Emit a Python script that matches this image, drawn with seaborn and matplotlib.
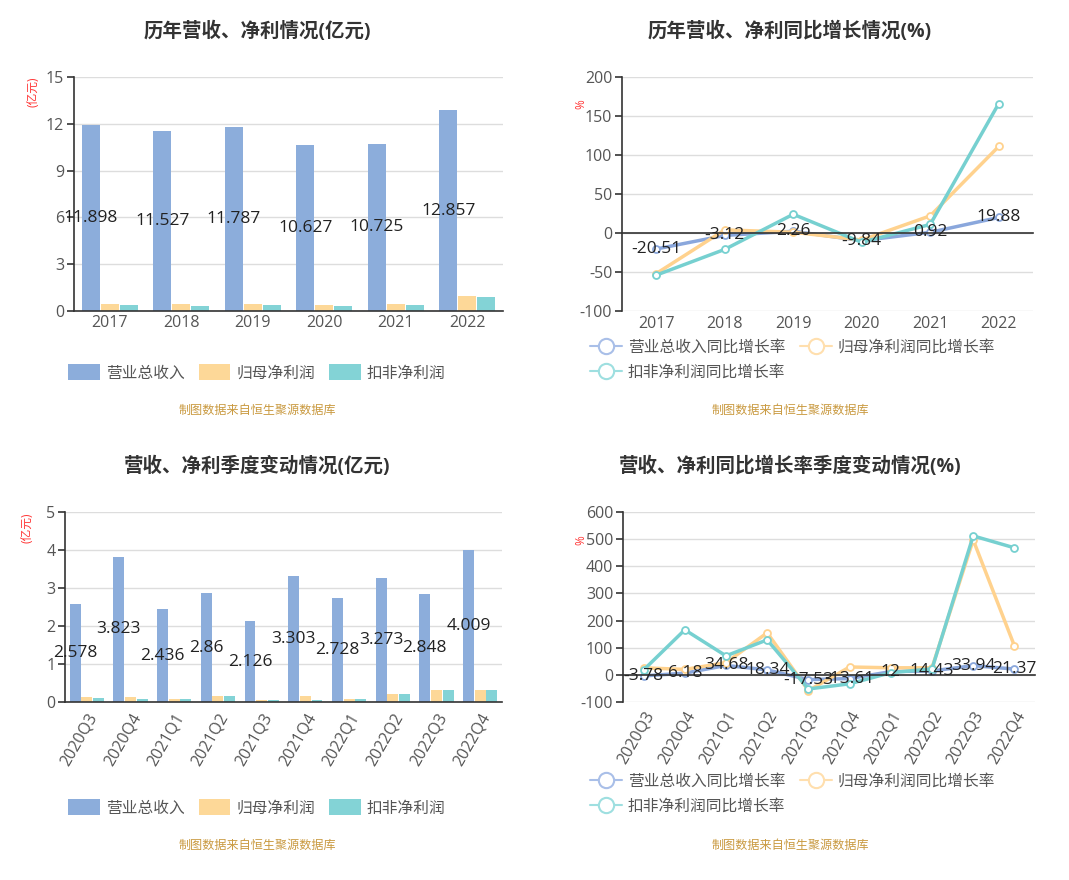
import matplotlib
matplotlib.use("Agg")
import matplotlib.pyplot as plt
import seaborn as sns
import pandas as pd
import numpy as np
from matplotlib.lines import Line2D
from matplotlib.patches import Patch

sns.set_style("white")
plt.rcParams['font.family'] = ['Open Sans', 'Noto Sans CJK SC', 'DejaVu Sans']
plt.rcParams['axes.unicode_minus'] = False

# ---------------- data ----------------
years = ['2017', '2018', '2019', '2020', '2021', '2022']
rev = [11.898, 11.527, 11.787, 10.627, 10.725, 12.857]
np_parent = [0.42, 0.44, 0.43, 0.38, 0.47, 0.97]
np_deduct = [0.36, 0.29, 0.37, 0.33, 0.37, 0.90]
rev_yoy = [-20.51, -3.12, 2.26, -9.84, 0.92, 19.88]
parent_yoy = [-52, 4, 1, -9, 22, 111]
deduct_yoy = [-54, -21, 24, -12, 11, 166]

quarters = ['2020Q3', '2020Q4', '2021Q1', '2021Q2', '2021Q3', '2021Q4',
            '2022Q1', '2022Q2', '2022Q3', '2022Q4']
q_rev = [2.578, 3.823, 2.436, 2.86, 2.126, 3.303, 2.728, 3.273, 2.848, 4.009]
q_parent = [0.13, 0.12, 0.07, 0.17, 0.06, 0.15, 0.09, 0.21, 0.32, 0.32]
q_deduct = [0.11, 0.09, 0.08, 0.16, 0.06, 0.06, 0.08, 0.20, 0.31, 0.31]
q_rev_yoy = [-3.78, 6.18, 34.68, 18.34, -17.53, -13.61, 12, 14.43, 33.94, 21.37]
q_parent_yoy = [26, 20, 45, 155, -58, 29, 26, 26, 497, 107]
q_deduct_yoy = [18, 166, 70, 129, -52, -33, 8, 22, 512, 468]

bar_names = ['营业总收入', '归母净利润', '扣非净利润']
line_names = ['营业总收入同比增长率', '归母净利润同比增长率', '扣非净利润同比增长率']
bar_colors = ['#8CADDB', '#FDD898', '#83D3D6']
line_colors = ['#8AA7DC', '#FFD28E', '#76D0D0']
legend_line_colors = ['#A9BFE8', '#FFDFAE', '#9EDFE0']
source = '制图数据来自恒生聚源数据库'

W, H = 1069, 880
fig = plt.figure(figsize=(W / 100, H / 100), dpi=100)
fig.patch.set_facecolor('white')


def add_ax(l, t, r, b):
    return fig.add_axes([l / W, 1 - b / H, (r - l) / W, (b - t) / H])


TICK_C = '#555555'
AXIS_C = '#333333'
TICK_FS = 11.5


def rotate_labels(ax, rot):
    for lab in ax.get_xticklabels():
        lab.set_rotation(rot)
        lab.set_ha('right')
        lab.set_rotation_mode('anchor')


def style_axes(ax, n, ymin, ymax, ystep, zero_spine=False, pad=4):
    ax.set_xlim(-0.5, n - 0.5)
    ax.set_ylim(ymin, ymax)
    ax.set_yticks(np.arange(ymin, ymax + 0.001, ystep))
    ax.yaxis.grid(True, color='#DDDDDD', lw=1)
    ax.xaxis.grid(False)
    ax.set_axisbelow(True)
    for s in ['top', 'right']:
        ax.spines[s].set_visible(False)
    for s in ['left', 'bottom']:
        ax.spines[s].set_color(AXIS_C)
        ax.spines[s].set_linewidth(1.2)
    if zero_spine:
        ax.spines['bottom'].set_position(('data', 0))
    ax.set_xticks(np.arange(n))
    ax.set_xticks(np.arange(-0.5, n, 1.0), minor=True)
    ax.tick_params(axis='x', which='major', length=0, pad=pad, labelsize=TICK_FS,
                   colors=TICK_C)
    ax.tick_params(axis='x', which='minor', length=5, width=1.2, color=AXIS_C,
                   direction='out')
    ax.tick_params(axis='y', which='major', length=5, width=1.2, color=AXIS_C,
                   labelsize=TICK_FS, labelcolor=TICK_C, left=True, direction='out',
                   pad=2)
    ax.set_xlabel('')
    ax.set_ylabel('')


def bar_panel(ax, cats, a, b, c, ymin, ymax, ystep, rot=0):
    df = pd.DataFrame({
        'cat': cats * 3,
        'val': a + b + c,
        'series': sum([[nm] * len(cats) for nm in bar_names], []),
    })
    sns.barplot(data=df, x='cat', y='val', hue='series', hue_order=bar_names,
                palette=bar_colors, width=0.8, gap=0.06, ax=ax, legend=False,
                saturation=1, edgecolor='none')
    style_axes(ax, len(cats), ymin, ymax, ystep, pad=(3 if not rot else 6))
    ax.set_xticklabels(cats)
    if rot:
        rotate_labels(ax, rot)
    ax.bar_label(ax.containers[0], labels=[f'{v:g}' for v in a], label_type='center',
                 fontsize=12.5, color='#222222')


def line_panel(ax, cats, a, b, c, ymin, ymax, ystep, rot=0, pad=4):
    df = pd.DataFrame({
        'cat': cats * 3,
        'val': a + b + c,
        'series': sum([[nm] * len(cats) for nm in line_names], []),
    })
    df['xi'] = list(range(len(cats))) * 3
    sns.lineplot(data=df, x='xi', y='val', hue='series', hue_order=line_names,
                 palette=line_colors, lw=2.5, marker='o', markersize=5,
                 markerfacecolor='white', markeredgewidth=1.3, ax=ax, legend=False,
                 sort=False)
    for ln, col in zip(ax.lines, line_colors):
        ln.set_markeredgecolor(col)
    style_axes(ax, len(cats), ymin, ymax, ystep, zero_spine=True, pad=pad)
    ax.set_xticklabels(cats)
    if rot:
        rotate_labels(ax, rot)
    for i, v in enumerate(a):
        ax.text(i, v, f'{v:g}', ha='center', va='center', fontsize=12.5,
                color='#222222', zorder=5)


# ---------- top-left ----------
ax1 = add_ax(74, 77, 503, 311)
bar_panel(ax1, years, rev, np_parent, np_deduct, 0, 15, 3)

# ---------- top-right ----------
ax2 = add_ax(622, 77, 1033, 311)
line_panel(ax2, years, rev_yoy, parent_yoy, deduct_yoy, -100, 200, 50, pad=60)

# ---------- bottom-left ----------
ax3 = add_ax(65, 512, 502, 702)
bar_panel(ax3, quarters, q_rev, q_parent, q_deduct, 0, 5, 1, rot=60)

# ---------- bottom-right ----------
ax4 = add_ax(623, 512, 1035, 702)
line_panel(ax4, quarters, q_rev_yoy, q_parent_yoy, q_deduct_yoy, -100, 600, 100,
           rot=60, pad=24)

# ---------- titles ----------
title_kw = dict(ha='center', va='center', fontsize=14, fontweight='bold', color='#333333')
fig.text(257 / W, 1 - 32 / H, '历年营收、净利情况(亿元)', **title_kw)
fig.text(790 / W, 1 - 32 / H, '历年营收、净利同比增长情况(%)', **title_kw)
fig.text(257 / W, 1 - 467 / H, '营收、净利季度变动情况(亿元)', **title_kw)
fig.text(790 / W, 1 - 467 / H, '营收、净利同比增长率季度变动情况(%)', **title_kw)

# ---------- unit labels ----------
unit_kw = dict(ha='center', va='center', fontsize=8.5, color='#FF3333', rotation=90)
fig.text(33 / W, 1 - 92 / H, '(亿元)', **unit_kw)
fig.text(27 / W, 1 - 528 / H, '(亿元)', **unit_kw)
fig.text(581 / W, 1 - 104 / H, '%', **unit_kw)
fig.text(581 / W, 1 - 540 / H, '%', **unit_kw)

# ---------- source text ----------
src_kw = dict(ha='center', va='center', fontsize=8.7, color='#C9993F')
fig.text(257 / W, 1 - 410 / H, source, **src_kw)
fig.text(790 / W, 1 - 410 / H, source, **src_kw)
fig.text(257 / W, 1 - 845 / H, source, **src_kw)
fig.text(790 / W, 1 - 845 / H, source, **src_kw)

# ---------- legends ----------
bar_handles = [Patch(facecolor=c, edgecolor='none') for c in bar_colors]
leg_kw = dict(frameon=False, fontsize=11.3, labelcolor='#555555', handlelength=2.0,
              handleheight=1.15, handletextpad=0.4, columnspacing=0.9, borderaxespad=0)
fig.legend(bar_handles, bar_names, loc='center', ncol=3,
           bbox_to_anchor=(257 / W, 1 - 373 / H), **leg_kw)
fig.legend(bar_handles, bar_names, loc='center', ncol=3,
           bbox_to_anchor=(257 / W, 1 - 808 / H), **leg_kw)

line_handles = [Line2D([], [], color=c, lw=1.5, marker='o', markersize=11,
                       markerfacecolor='white', markeredgewidth=1.5, markeredgecolor=c)
                for c in legend_line_colors]
order = [0, 2, 1]
lleg_kw = dict(frameon=False, fontsize=11.3, labelcolor='#555555', handlelength=2.0,
               handletextpad=0.4, columnspacing=0.95, borderaxespad=0, labelspacing=0.6)
fig.legend([line_handles[i] for i in order], [line_names[i] for i in order],
           loc='upper left', ncol=2, bbox_to_anchor=(584 / W, 1 - 333 / H), **lleg_kw)
fig.legend([line_handles[i] for i in order], [line_names[i] for i in order],
           loc='upper left', ncol=2, bbox_to_anchor=(584 / W, 1 - 767 / H), **lleg_kw)

fig.savefig('out.png', dpi=100, facecolor='white')
